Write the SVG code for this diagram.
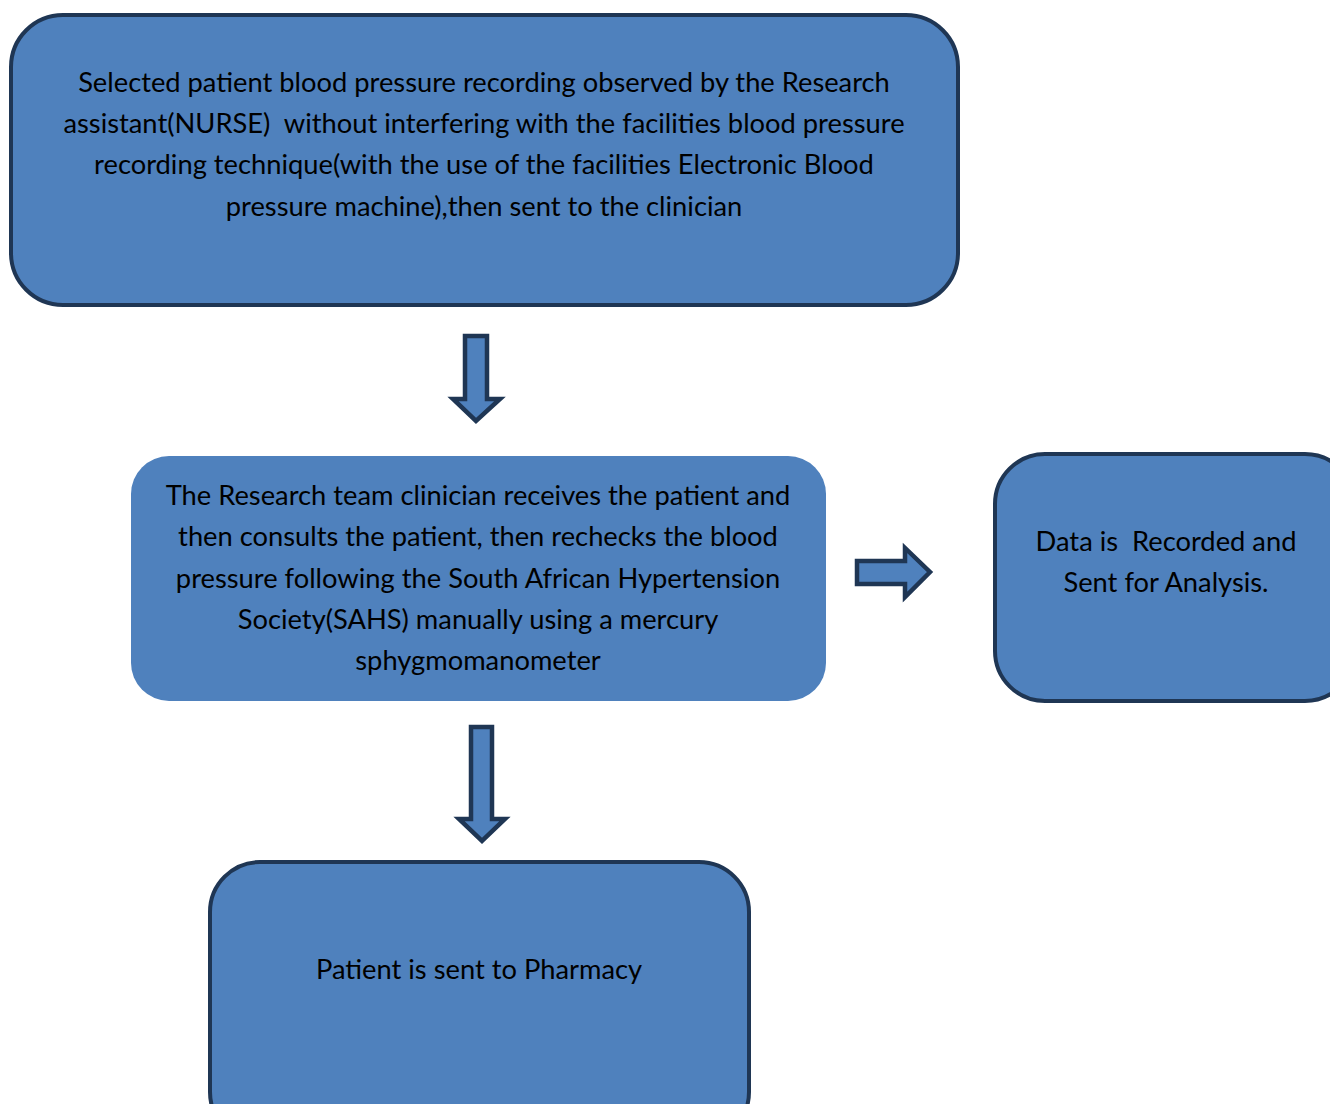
<svg xmlns="http://www.w3.org/2000/svg" width="1330" height="1104" viewBox="0 0 1330 1104">
<style>
.box{fill:#4f81bd;stroke:#1f3654;stroke-width:4}
.nb{fill:#4f81bd}
.arr{fill:#4f81bd;stroke:#1f3654;stroke-width:4.5;stroke-linejoin:miter}
text{font-family:Lato,"Liberation Sans",sans-serif;font-size:27.3px;fill:#000;text-anchor:middle;white-space:pre}
</style>
<rect width="1330" height="1104" fill="#fff"/>
<g id="node-nurse">
<rect class="box" x="11" y="15" width="947" height="290" rx="52"/>
<text x="484" y="92">Selected patient blood pressure recording observed by the Research</text>
<text x="484" y="133">assistant(NURSE)  without interfering with the facilities blood pressure</text>
<text x="484" y="174">recording technique(with the use of the facilities Electronic Blood</text>
<text x="484" y="216">pressure machine),then sent to the clinician</text>
</g>
<g id="node-clinician">
<rect class="nb" x="131" y="456" width="695" height="245" rx="38"/>
<text x="478" y="505">The Research team clinician receives the patient and</text>
<text x="478" y="546">then consults the patient, then rechecks the blood</text>
<text x="478" y="588">pressure following the South African Hypertension</text>
<text x="478" y="629">Society(SAHS) manually using a mercury</text>
<text x="478" y="670">sphygmomanometer</text>
</g>
<g id="node-data">
<rect class="box" x="995" y="454" width="360" height="247" rx="50"/>
<text x="1166" y="551">Data is  Recorded and</text>
<text x="1166" y="592">Sent for Analysis.</text>
</g>
<g id="node-pharmacy">
<rect class="box" x="210" y="862" width="539" height="280" rx="50"/>
<text x="479" y="979">Patient is sent to Pharmacy</text>
</g>
<g id="connectors">
<polygon class="arr" points="465,336 487,336 487,399 500,399 476,421 453,399 465,399"/>
<polygon class="arr" points="857,561 905,561 905,548 930,572 905,597 905,584 857,584"/>
<polygon class="arr" points="471,727 492,727 492,819 505,819 482,841 459,819 471,819"/>
</g>
</svg>
